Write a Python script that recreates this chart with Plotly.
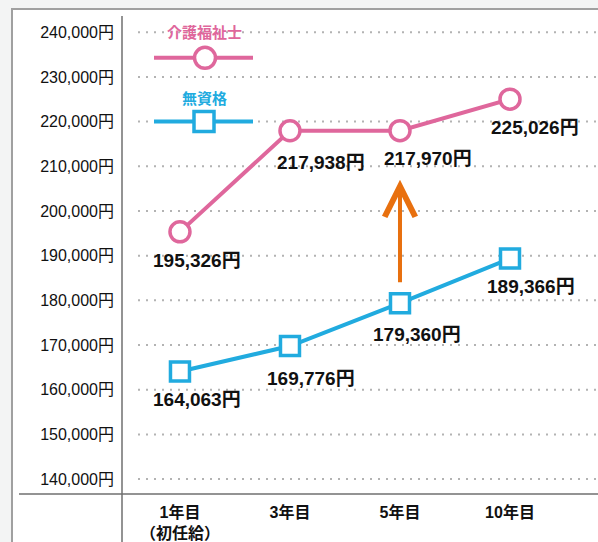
import plotly.graph_objects as go

# ---- data ----
categories = ["1年目<br>（初任給）", "3年目", "5年目", "10年目"]
care_worker = [195326, 217938, 217970, 225026]      # 介護福祉士
no_license = [164063, 169776, 179360, 189366]       # 無資格
y_ticks = [140000, 150000, 160000, 170000, 180000, 190000, 200000,
           210000, 220000, 230000, 240000]
y_tick_labels = [f"{v:,}円" for v in y_ticks]
series_names = ["介護福祉士", "無資格"]
arrow_from, arrow_to = 183700, 207000   # orange arrow at 5年目

PINK = "#df679c"
BLUE = "#21abdf"
ORANGE = "#e8700f"
W, H = 598, 542
L, R, T, B = 122, 0, 16, 46

def px(x):
    return (x - L) / (W - L - R)

def py(y):
    return (H - B - y) / (H - T - B)

xs = list(range(len(categories)))
FONT = "Liberation Sans, Noto Sans CJK JP, sans-serif"

fig = go.Figure()
fig.add_trace(go.Scatter(
    x=xs, y=care_worker, mode="lines+markers", name=series_names[0],
    line=dict(color=PINK, width=4),
    marker=dict(symbol="circle", size=20, color="white",
                line=dict(color=PINK, width=3.5)),
    cliponaxis=False, showlegend=False, hoverinfo="skip"))
fig.add_trace(go.Scatter(
    x=xs, y=no_license, mode="lines+markers", name=series_names[1],
    line=dict(color=BLUE, width=4),
    marker=dict(symbol="square", size=19, color="white",
                line=dict(color=BLUE, width=3.5)),
    cliponaxis=False, showlegend=False, hoverinfo="skip"))

shapes = []
# white frame
shapes.append(dict(type="rect", xref="paper", yref="paper",
                   x0=px(12), x1=px(605), y0=py(9), y1=py(550),
                   fillcolor="white", line=dict(color="#a0a0a0", width=2),
                   layer="below"))
# gridlines
for v in y_ticks:
    shapes.append(dict(type="line", xref="paper", yref="y",
                       x0=px(138), x1=1, y0=v, y1=v,
                       line=dict(color="#b3b3b3", width=2, dash="2px,6px"),
                       layer="below"))
# axes lines
shapes.append(dict(type="line", xref="paper", yref="paper",
                   x0=0, x1=0, y0=py(16), y1=py(545),
                   line=dict(color="#6f6f6f", width=1.5)))
shapes.append(dict(type="line", xref="paper", yref="paper",
                   x0=px(19), x1=1, y0=py(496), y1=py(496),
                   line=dict(color="#6f6f6f", width=1.5)))
# legend symbols
shapes.append(dict(type="line", xref="paper", yref="paper",
                   x0=px(154), x1=px(253), y0=py(58), y1=py(58),
                   line=dict(color=PINK, width=4)))
shapes.append(dict(type="circle", xref="paper", yref="paper",
                   x0=px(205 - 10.5), x1=px(205 + 10.5),
                   y0=py(58 + 10.5), y1=py(58 - 10.5),
                   fillcolor="white", line=dict(color=PINK, width=3.5)))
shapes.append(dict(type="line", xref="paper", yref="paper",
                   x0=px(154), x1=px(253), y0=py(122), y1=py(122),
                   line=dict(color=BLUE, width=4)))
shapes.append(dict(type="rect", xref="paper", yref="paper",
                   x0=px(204 - 10), x1=px(204 + 10),
                   y0=py(122 + 10), y1=py(122 - 10),
                   fillcolor="white", line=dict(color=BLUE, width=3.5)))

annotations = []
# legend text
annotations.append(dict(xref="paper", yref="paper", x=px(204), y=py(33),
                        xanchor="center", yanchor="middle",
                        text="<b>" + series_names[0] + "</b>", showarrow=False,
                        font=dict(family=FONT, size=15, color=PINK)))
annotations.append(dict(xref="paper", yref="paper", x=px(204), y=py(99),
                        xanchor="center", yanchor="middle",
                        text="<b>" + series_names[1] + "</b>", showarrow=False,
                        font=dict(family=FONT, size=15, color=BLUE)))

# data labels
pink_shift = [(17, -29), (31, -32), (28, -28), (25, -28)]
blue_shift = [(17, -28), (21, -32), (17, -31), (21, -28)]
for vals, shifts in ((care_worker, pink_shift), (no_license, blue_shift)):
    for i, v in enumerate(vals):
        annotations.append(dict(x=xs[i], y=v, xref="x", yref="y",
                                xanchor="center", yanchor="middle",
                                text=f"<b>{v:,}円</b>", showarrow=False,
                                xshift=shifts[i][0], yshift=shifts[i][1],
                                font=dict(family=FONT, size=19, color="#111")))

# orange arrow
annotations.append(dict(x=2, y=arrow_to, ax=2, ay=arrow_from,
                        xref="x", yref="y", axref="x", ayref="y",
                        text="", showarrow=True, arrowhead=5, arrowsize=1.5,
                        arrowwidth=4, arrowcolor=ORANGE, standoff=0))

fig.update_layout(
    width=W, height=H,
    margin=dict(l=L, r=R, t=T, b=B, pad=0),
    paper_bgcolor="#f3f4f4",
    plot_bgcolor="rgba(0,0,0,0)",
    shapes=shapes, annotations=annotations,
    hovermode=False,
    xaxis=dict(range=[-0.527, 3.8], tickvals=xs,
               ticktext=[f"<b>{c}</b>".replace("<br>", "</b><br><b>") for c in categories],
               showgrid=False, zeroline=False, showline=False, ticks="",
               tickfont=dict(family=FONT, size=16, color="#111"),
               ticklabelstandoff=7),
    yaxis=dict(range=[136657, 243633], tickvals=y_ticks, ticktext=y_tick_labels,
               showgrid=False, zeroline=False, showline=False, ticks="",
               tickfont=dict(family=FONT, size=16, color="#111"),
               ticklabelstandoff=7),
)

fig.write_html("out.html", config={"displayModeBar": False},
               post_script="document.body.style.margin='0';document.body.style.overflow='hidden';")
